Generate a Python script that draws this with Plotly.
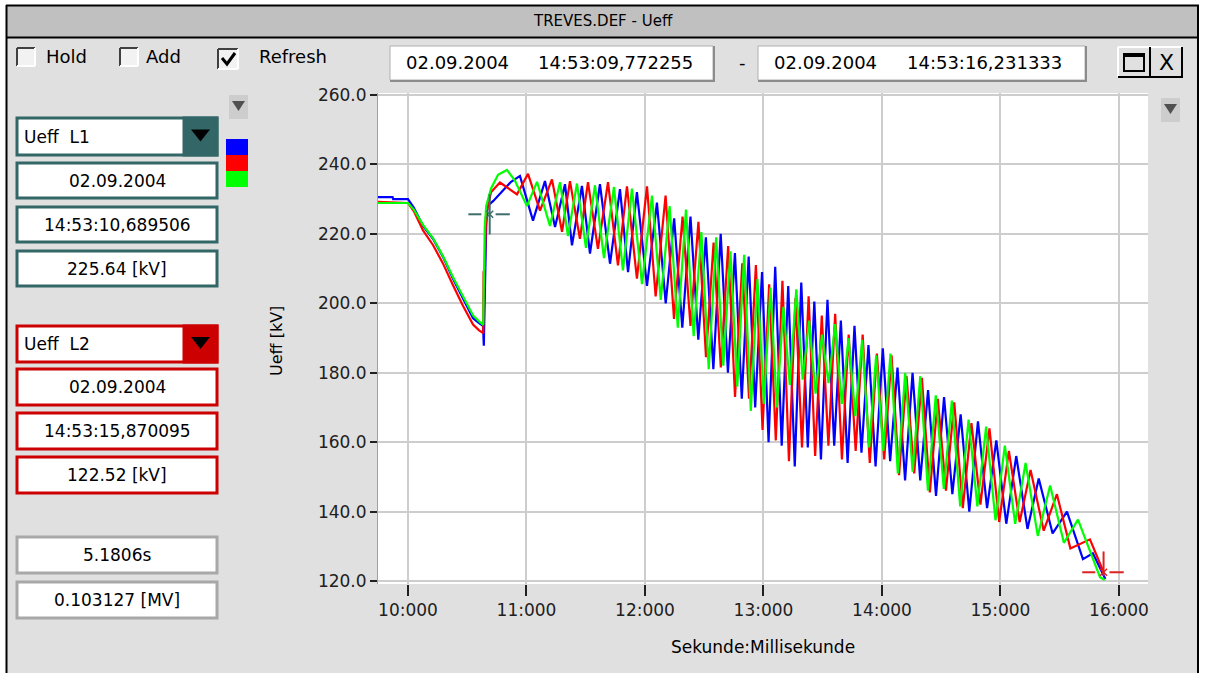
import plotly.graph_objects as go

# ---------------- data ----------------
blue_t = [9.747, 9.870, 9.875, 10.000, 10.050, 10.127, 10.211, 10.295, 10.380, 10.464,
          10.549, 10.600, 10.633, 10.640, 10.645, 10.652, 10.660, 10.670, 10.720, 10.800,
          10.870, 10.945, 11.055, 11.156, 11.241, 11.325, 11.384, 11.468, 11.536, 11.620,
          11.705, 11.789, 11.857, 11.932, 12.017, 12.101, 12.175, 12.246, 12.315, 12.384,
          12.450, 12.514, 12.577, 12.639, 12.700, 12.759, 12.817, 12.875, 12.930, 12.988,
          13.043, 13.099, 13.154, 13.209, 13.264, 13.319, 13.374, 13.429, 13.485, 13.540,
          13.597, 13.653, 13.710, 13.768, 13.827, 13.886, 13.946, 14.007, 14.069, 14.131,
          14.195, 14.258, 14.323, 14.389, 14.456, 14.524, 14.594, 14.664, 14.737, 14.810,
          14.887, 14.965, 15.049, 15.133, 15.228, 15.323, 15.440, 15.561, 15.696, 15.780,
          15.885]
blue_v = [230.6, 230.6, 230.0, 230.0, 227.5, 222.3, 218.6, 213.4, 207.1, 201.4,
          195.7, 194.3, 193.5, 187.8, 206.0, 208.5, 222.0, 228.0, 229.5, 232.3,
          235.0, 236.7, 223.8, 235.2, 222.0, 234.3, 216.7, 233.8, 214.3, 234.3,
          211.4, 232.9, 209.0, 232.0, 205.0, 229.0, 200.0, 224.5, 193.0, 225.0,
          189.5, 219.0, 181.0, 220.0, 180.0, 214.5, 172.5, 213.5, 170.0, 209.0,
          160.0, 210.5, 159.0, 205.0, 153.0, 206.0, 158.5, 200.5, 155.0, 201.0,
          159.0, 195.0, 154.0, 193.5, 157.0, 188.0, 153.0, 187.0, 154.5, 181.5,
          149.0, 180.0, 149.0, 175.0, 144.5, 173.0, 145.0, 168.0, 140.0, 166.0,
          141.0, 160.5, 136.5, 156.0, 135.0, 149.5, 133.7, 140.0, 126.3, 128.0,
          120.6]

red_t = [9.747, 10.000, 10.050, 10.127, 10.211, 10.295, 10.380, 10.464, 10.549, 10.600,
         10.635, 10.638, 10.648, 10.658, 10.700, 10.776, 10.920, 11.013, 11.114, 11.215,
         11.300, 11.367, 11.451, 11.519, 11.603, 11.688, 11.772, 11.848, 11.932, 12.017,
         12.090, 12.174, 12.245, 12.317, 12.384, 12.451, 12.515, 12.579, 12.640, 12.702,
         12.760, 12.821, 12.878, 12.936, 12.992, 13.048, 13.104, 13.160, 13.215, 13.270,
         13.325, 13.381, 13.436, 13.492, 13.548, 13.605, 13.662, 13.719, 13.778, 13.837,
         13.897, 13.957, 14.019, 14.081, 14.144, 14.207, 14.272, 14.337, 14.404, 14.471,
         14.540, 14.610, 14.682, 14.755, 14.831, 14.907, 14.989, 15.071, 15.162, 15.254,
         15.365, 15.476, 15.590, 15.755, 15.860, 15.875]
red_v = [229.2, 228.9, 226.5, 221.0, 216.8, 211.5, 205.2, 199.3, 193.9, 192.2,
         191.4, 209.0, 210.0, 225.0, 232.0, 234.8, 231.4, 237.3, 226.7, 235.7,
         220.6, 235.2, 218.6, 234.9, 215.7, 234.9, 210.9, 233.7, 207.1, 233.7,
         202.0, 231.0, 195.5, 225.0, 193.5, 223.5, 184.5, 217.5, 181.5, 216.5,
         173.0, 211.5, 172.5, 211.0, 163.5, 205.5, 160.5, 206.5, 154.5, 201.5,
         158.5, 202.0, 156.0, 196.5, 159.0, 197.0, 155.0, 191.0, 157.5, 191.0,
         154.0, 185.5, 155.0, 185.0, 150.5, 179.0, 151.0, 178.5, 145.5, 172.5,
         146.0, 171.5, 141.0, 165.5, 142.0, 164.0, 137.0, 157.5, 137.0, 152.0,
         134.5, 145.0, 129.4, 132.0, 123.4, 122.0]

green_t = [9.747, 10.000, 10.050, 10.127, 10.211, 10.295, 10.380, 10.464, 10.549, 10.600,
           10.635, 10.640, 10.648, 10.660, 10.700, 10.760, 10.835, 10.900, 11.004, 11.089,
           11.198, 11.283, 11.350, 11.426, 11.502, 11.578, 11.654, 11.738, 11.814, 11.890,
           11.975, 12.059, 12.133, 12.208, 12.277, 12.346, 12.411, 12.476, 12.538, 12.601,
           12.661, 12.721, 12.779, 12.837, 12.893, 12.949, 13.004, 13.059, 13.113, 13.168,
           13.222, 13.277, 13.331, 13.385, 13.440, 13.494, 13.549, 13.605, 13.661, 13.718,
           13.775, 13.833, 13.892, 13.951, 14.011, 14.072, 14.134, 14.196, 14.259, 14.323,
           14.388, 14.454, 14.522, 14.590, 14.660, 14.731, 14.805, 14.879, 14.958, 15.037,
           15.124, 15.212, 15.315, 15.419, 15.535, 15.654, 15.840, 15.880]
green_v = [228.9, 228.9, 227.0, 222.6, 218.8, 213.6, 207.5, 201.8, 196.5, 194.8,
           193.8, 205.0, 222.0, 228.0, 233.0, 237.0, 238.4, 235.5, 228.0, 235.0,
           222.3, 234.9, 219.4, 234.5, 216.0, 234.0, 213.0, 233.5, 209.5, 233.0,
           205.5, 231.0, 201.0, 228.0, 193.0, 227.0, 190.5, 220.5, 181.0, 219.0,
           182.0, 215.0, 176.0, 214.0, 169.0, 207.0, 171.0, 204.5, 170.0, 199.0,
           176.5, 204.0, 178.0, 195.0, 174.0, 191.0, 177.0, 194.0, 171.0, 190.0,
           167.5, 189.5, 158.5, 185.0, 157.5, 185.5, 151.0, 180.0, 151.5, 179.0,
           146.0, 173.5, 146.5, 172.0, 141.5, 166.5, 141.5, 164.5, 137.5, 159.0,
           136.5, 154.0, 133.0, 147.5, 131.0, 137.7, 121.1, 120.3]

x_tick_vals = [10, 11, 12, 13, 14, 15, 16]
x_tick_text = ["10:000", "11:000", "12:000", "13:000", "14:000", "15:000", "16:000"]
y_tick_vals = [120, 140, 160, 180, 200, 220, 240, 260]

cursor1_t, cursor1_v = 10.689506, 225.64
cursor2_t, cursor2_v = 15.870095, 122.52

# ---------------- geometry / style ----------------
W, H = 1207, 673
PL, PR, PT, PB = 378, 1148, 93, 584
X_RANGE = [9.747, 16.245]
Y_RANGE = [119.14, 260.58]
FONT = "DejaVu Sans"
BG = "#e0e0e0"
TEAL = "#336666"
RED = "#cc0000"


def px(x):
    return (x - PL) / (PR - PL)


def py(y):
    return (PB - y) / (PB - PT)


shapes = []
annotations = []


def rect(x0, y0, x1, y1, fill=None, line=None, lw=0):
    shapes.append(dict(type="rect", xref="paper", yref="paper",
                       x0=px(x0), x1=px(x1), y0=py(y1), y1=py(y0),
                       fillcolor=fill if fill else "rgba(0,0,0,0)",
                       line=dict(color=line if line else "rgba(0,0,0,0)", width=lw)))


def seg(x0, y0, x1, y1, color, w):
    shapes.append(dict(type="line", xref="paper", yref="paper",
                       x0=px(x0), x1=px(x1), y0=py(y0), y1=py(y1),
                       line=dict(color=color, width=w)))


def poly(pts, fill=None, line=None, lw=0, closed=True):
    path = "M" + " L".join(f"{px(a):.5f},{py(b):.5f}" for a, b in pts)
    if closed:
        path += " Z"
    shapes.append(dict(type="path", xref="paper", yref="paper", path=path,
                       fillcolor=fill if fill else "rgba(0,0,0,0)",
                       line=dict(color=line if line else "rgba(0,0,0,0)", width=lw)))


def txt(x, y, s, size=18, anchor="left", color="#000000", angle=0):
    annotations.append(dict(xref="paper", yref="paper", x=px(x), y=py(y), text=s,
                            showarrow=False, xanchor=anchor, yanchor="middle",
                            textangle=angle, borderpad=0,
                            font=dict(family=FONT, size=size, color=color)))


# window frame
rect(0, 0, 6, H, fill="#ffffff")
rect(0, 0, W, 5, fill="#ffffff")
rect(1199, 0, W, H, fill="#ffffff")
rect(7, 6, 1198, 37, fill="#c0c0c0")
seg(6.5, 5, 6.5, H, "#000000", 2)
seg(6, 5.5, 1199, 5.5, "#000000", 2)
seg(1198, 5, 1198, H, "#000000", 2)
seg(7, 37.5, 1198, 37.5, "#000000", 2)
txt(603, 21, "TREVES.DEF - Ueff", size=15, anchor="center")


# check boxes
def checkbox(x0, y0, x1, y1):
    rect(x0, y0, x1, y1, fill="#f2f2f2")
    seg(x0, y0, x1, y0, "#404040", 2)
    seg(x0, y0, x0, y1, "#404040", 2)
    seg(x0, y1, x1, y1, "#ffffff", 2)
    seg(x1, y0, x1, y1, "#ffffff", 2)


checkbox(17, 48, 35, 66)
txt(45, 57, "Hold")
checkbox(120, 48, 138, 66)
txt(145, 57, "Add")
checkbox(218, 49, 238, 69)
poly([(222, 58), (227, 64), (235, 53)], line="#000000", lw=3, closed=False)
txt(258, 57, "Refresh")


# sunken date boxes
def sunken(x0, y0, x1, y1):
    rect(x0, y0, x1, y1, fill="#ffffff", line="#b0b0b0", lw=1)
    seg(x0, y1 + 1, x1 + 2, y1 + 1, "#8c8c8c", 2)
    seg(x1 + 1, y0, x1 + 1, y1 + 2, "#8c8c8c", 2)


sunken(390, 46, 713, 80)
txt(405, 63, "02.09.2004")
txt(537, 63, "14:53:09,772255")
txt(738, 62, "-")
sunken(758, 46, 1085, 80)
txt(773, 63, "02.09.2004")
txt(906, 63, "14:53:16,231333")

# window buttons
rect(1118, 47, 1182, 77, fill=BG)
seg(1118, 47, 1182, 47, "#ffffff", 2)
seg(1118, 47, 1118, 77, "#ffffff", 2)
seg(1118, 77, 1183, 77, "#000000", 2)
seg(1182, 47, 1182, 78, "#000000", 2)
seg(1150, 47, 1150, 77, "#000000", 2)
rect(1124, 54, 1144, 71, line="#000000", lw=2)
seg(1124, 55.5, 1144, 55.5, "#000000", 3)
txt(1166, 62, "X", size=22, anchor="center")


# small drop-down arrow icons
def arrow_icon(x0, y0):
    rect(x0, y0, x0 + 19, y0 + 24, fill="#cdcdcd")
    poly([(x0 + 3, y0 + 6), (x0 + 16, y0 + 6), (x0 + 9.5, y0 + 16)], fill="#505050")


arrow_icon(229, 95)
arrow_icon(1161, 98)


# left panel
def dropdown(y0, y1, color, label):
    rect(17, y0, 217, y1, fill="#ffffff", line=color, lw=3)
    rect(184, y0, 217, y1, fill=color, line=color, lw=3)
    ym = (y0 + y1) / 2
    poly([(191, ym - 7), (210, ym - 7), (200.5, ym + 5)], fill="#000000")
    txt(23, ym, label, size=17)


def field(y0, y1, color, label, lw=3):
    rect(17, y0, 217, y1, fill="#ffffff", line=color, lw=lw)
    txt(117, (y0 + y1) / 2, label, size=17, anchor="center")


dropdown(118, 155, TEAL, "Ueff\u00a0\u00a0L1")
field(163, 198, TEAL, "02.09.2004")
field(207, 242, TEAL, "14:53:10,689506")
field(251, 286, TEAL, "225.64 [kV]")
rect(226, 139, 248, 155, fill="#0000ff")
rect(226, 155, 248, 171, fill="#ff0000")
rect(226, 171, 248, 187, fill="#00ff00")

dropdown(326, 362, RED, "Ueff\u00a0\u00a0L2")
field(369, 405, RED, "02.09.2004")
field(413, 449, RED, "14:53:15,870095")
field(457, 493, RED, "122.52 [kV]")

field(537, 573, "#a8a8a8", "5.1806s")
field(582, 618, "#a8a8a8", "0.103127 [MV]")

# axis titles
txt(276, 341, "Ueff [kV]", size=16, anchor="center", angle=-90)
txt(763, 647, "Sekunde:Millisekunde", size=17, anchor="center")

# ---------------- traces ----------------
fig = go.Figure()
for t, v, c in [(blue_t, blue_v, "#0000ff"), (red_t, red_v, "#ff0000"),
                (green_t, green_v, "#00ff00")]:
    fig.add_trace(go.Scatter(x=t, y=v, mode="lines", line=dict(color=c, width=2.2),
                             hoverinfo="skip"))


def cursor(t, v, color, up, down):
    fig.add_trace(go.Scatter(
        x=[t - 0.18, t - 0.07, None, t + 0.05, t + 0.17, None, t, t],
        y=[v, v, None, v, v, None, v + up, v - down],
        mode="lines", line=dict(color=color, width=2), hoverinfo="skip"))
    fig.add_trace(go.Scatter(x=[t], y=[v], mode="markers",
                             marker=dict(symbol="x-thin", size=7,
                                         line=dict(color=color, width=1.5)),
                             hoverinfo="skip"))


cursor(cursor1_t, cursor1_v, "#3d6d6d", 5.8, 5.8)
cursor(cursor2_t, cursor2_v, "#dd2020", 6.0, 1.0)

fig.update_layout(
    width=W, height=H, autosize=False,
    margin=dict(l=PL, r=W - PR, t=PT, b=H - PB, pad=0),
    paper_bgcolor=BG, plot_bgcolor="#ffffff",
    showlegend=False,
    shapes=shapes, annotations=annotations,
    font=dict(family=FONT, size=17, color="#202020"),
    xaxis=dict(range=X_RANGE, tickvals=x_tick_vals, ticktext=x_tick_text,
               showgrid=True, gridcolor="#cdcdcd", gridwidth=2, zeroline=False,
               ticks="outside", ticklen=11, tickwidth=2, tickcolor="#202020",
               showline=False, tickfont=dict(family=FONT, size=17, color="#202020")),
    yaxis=dict(range=Y_RANGE, tickvals=y_tick_vals, tickformat=".1f",
               showgrid=True, gridcolor="#cdcdcd", gridwidth=2, zeroline=False,
               ticks="outside", ticklen=7, tickwidth=2, tickcolor="#202020",
               showline=True, linecolor="#a0a0a0", linewidth=1,
               tickfont=dict(family=FONT, size=17, color="#202020")),
)

fig.write_html("out.html")
